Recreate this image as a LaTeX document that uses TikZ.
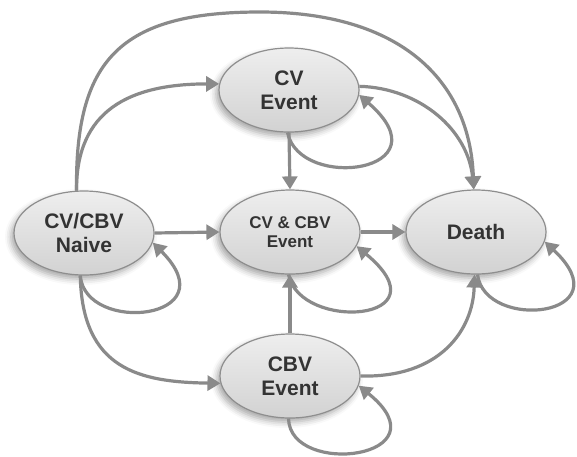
\documentclass[tikz,border=0pt]{standalone}
\usepackage{fontspec}
\setmainfont{Liberation Sans}
\usetikzlibrary{shapes.geometric,arrows.meta,shadows.blur}
\definecolor{edgegray}{HTML}{8A8A8A}
\definecolor{bordergray}{HTML}{8E8E8E}
\definecolor{txtgray}{HTML}{333333}
\definecolor{filltop}{HTML}{EEEEEE}
\definecolor{fillmid}{HTML}{DCDCDC}
\definecolor{fillbot}{HTML}{D2D2D2}
\begin{document}
\begin{tikzpicture}[x=1pt,y=-1pt,
  state/.style={ellipse, draw=bordergray, line width=1.2pt,
    minimum width=140pt, minimum height=84pt, inner sep=0pt,
    align=center, text=txtgray,
    font=\fontsize{21}{24}\selectfont\bfseries,
    top color=filltop, middle color=fillmid, bottom color=fillbot,
    blur shadow={shadow xshift=-3pt, shadow yshift=-4pt,
      shadow blur radius=6pt, shadow opacity=35}},
  smalltxt/.style={font=\fontsize{17}{19}\selectfont\bfseries},
  conn/.style={draw=edgegray, line width=3.2pt,
    -{Triangle[length=13pt,width=15pt]}}
]
\useasboundingbox (0,0) rectangle (577,456);

\node[state] (naive) at (84,233) {CV/CBV\\Naive};
\node[state] (cv) at (289,90) {CV\\Event};
\node[state, smalltxt] (both) at (290,232) {CV \& CBV\\Event};
\node[state] (death) at (476,232) {Death};
\node[state] (cbv) at (290,376) {CBV\\Event};

% from Naive
\draw[conn] (naive.100) .. controls (75,60) and (120,12) .. (260,12)
            .. controls (400,12) and (470,80) .. (death.93);
\draw[conn] (naive.100) .. controls (76,110) and (130,84) .. (cv.175);
\draw[conn] (naive.east) -- (both.west);
\draw[conn] (naive.265) .. controls (85,335) and (230,320) .. (naive.-8);
\draw[conn] (naive.265) .. controls (82,370) and (140,382) .. (cbv.186);

% from CV Event
\draw[conn] (cv.south) -- (both.north);
\draw[conn] (cv.268) .. controls (300,192) and (448,172) .. (cv.-4);
\draw[conn] (cv.3) .. controls (420,88) and (468,130) .. (death.93);

% from CV & CBV Event
\draw[conn] (both.east) -- (death.west);
\draw[conn] (both.268) .. controls (300,332) and (448,322) .. (both.-12);

% from CBV Event
\draw[conn] (cbv.north) -- (both.south);
\draw[conn] (cbv.268) .. controls (290,478) and (448,458) .. (cbv.-8);
\draw[conn] (cbv.east) .. controls (440,378) and (473,330) .. (death.268);

% Death
\draw[conn] (death.272) .. controls (485,332) and (625,317) .. (death.-8);
\end{tikzpicture}
\end{document}
